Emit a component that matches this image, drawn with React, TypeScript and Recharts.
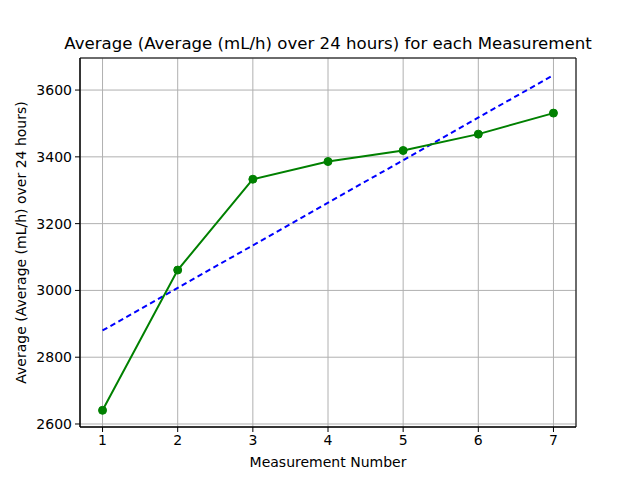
import {
  LineChart,
  Line,
  XAxis,
  YAxis,
  CartesianGrid,
  ReferenceArea,
} from "recharts";

const measurements = [1, 2, 3, 4, 5, 6, 7];
const averages = [2641, 3061, 3333, 3386, 3419, 3468, 3531];
// trend line read at its two ends only
const trend = [2880, null, null, null, null, null, 3645];
const yTicks = [2600, 2800, 3000, 3200, 3400, 3600];

const data = measurements.map((m, i) => ({
  x: m,
  avg: averages[i],
  trend: trend[i],
}));

const font = "DejaVu Sans, sans-serif";

export default function App() {
  return (
    <div
      style={{
        position: "absolute",
        left: 0,
        top: 0,
        width: 640,
        height: 480,
        background: "#fff",
        fontFamily: font,
      }}
    >
      <div
        style={{
          position: "absolute",
          top: 34,
          left: 0,
          width: 656,
          textAlign: "center",
          fontSize: 16.6,
          color: "#000",
          whiteSpace: "nowrap",
        }}
      >
        Average (Average (mL/h) over 24 hours) for each Measurement
      </div>
      <LineChart
        width={640}
        height={480}
        data={data}
        margin={{ top: 58, right: 64, left: 0, bottom: 0 }}
      >
        <CartesianGrid stroke="#b0b0b0" strokeWidth={1} />
        <XAxis
          dataKey="x"
          type="number"
          domain={[0.7, 7.3]}
          ticks={measurements}
          height={53}
          tickSize={5}
          tickMargin={3}
          tick={{ fill: "#000", fontSize: 14, fontFamily: font }}
          tickLine={{ stroke: "#000" }}
          axisLine={{ stroke: "#000" }}
          label={{
            value: "Measurement Number",
            position: "insideBottom",
            offset: 13,
            fill: "#000",
            fontSize: 14,
            fontFamily: font,
          }}
        />
        <YAxis
          type="number"
          domain={[2591, 3696]}
          ticks={yTicks}
          width={80}
          tickSize={5}
          tickMargin={3}
          tick={{ fill: "#000", fontSize: 14, fontFamily: font }}
          tickLine={{ stroke: "#000" }}
          axisLine={{ stroke: "#000" }}
          allowDataOverflow
          label={{
            value: "Average (Average (mL/h) over 24 hours)",
            angle: -90,
            position: "insideLeft",
            offset: 21,
            style: { textAnchor: "middle" },
            fill: "#000",
            fontSize: 14,
            fontFamily: font,
          }}
        />
        <ReferenceArea
          x1={0.7}
          x2={7.3}
          y1={2591}
          y2={3696}
          stroke="#000"
          strokeWidth={1}
          fill="none"
          fillOpacity={0}
          ifOverflow="visible"
        />
        <Line
          dataKey="trend"
          stroke="#0000ff"
          strokeWidth={2}
          strokeDasharray="5.5 3.6"
          dot={false}
          connectNulls
          isAnimationActive={false}
        />
        <Line
          dataKey="avg"
          stroke="#008000"
          strokeWidth={2}
          dot={{ r: 4, fill: "#008000", stroke: "#008000", strokeWidth: 1 }}
          isAnimationActive={false}
        />
      </LineChart>
    </div>
  );
}
